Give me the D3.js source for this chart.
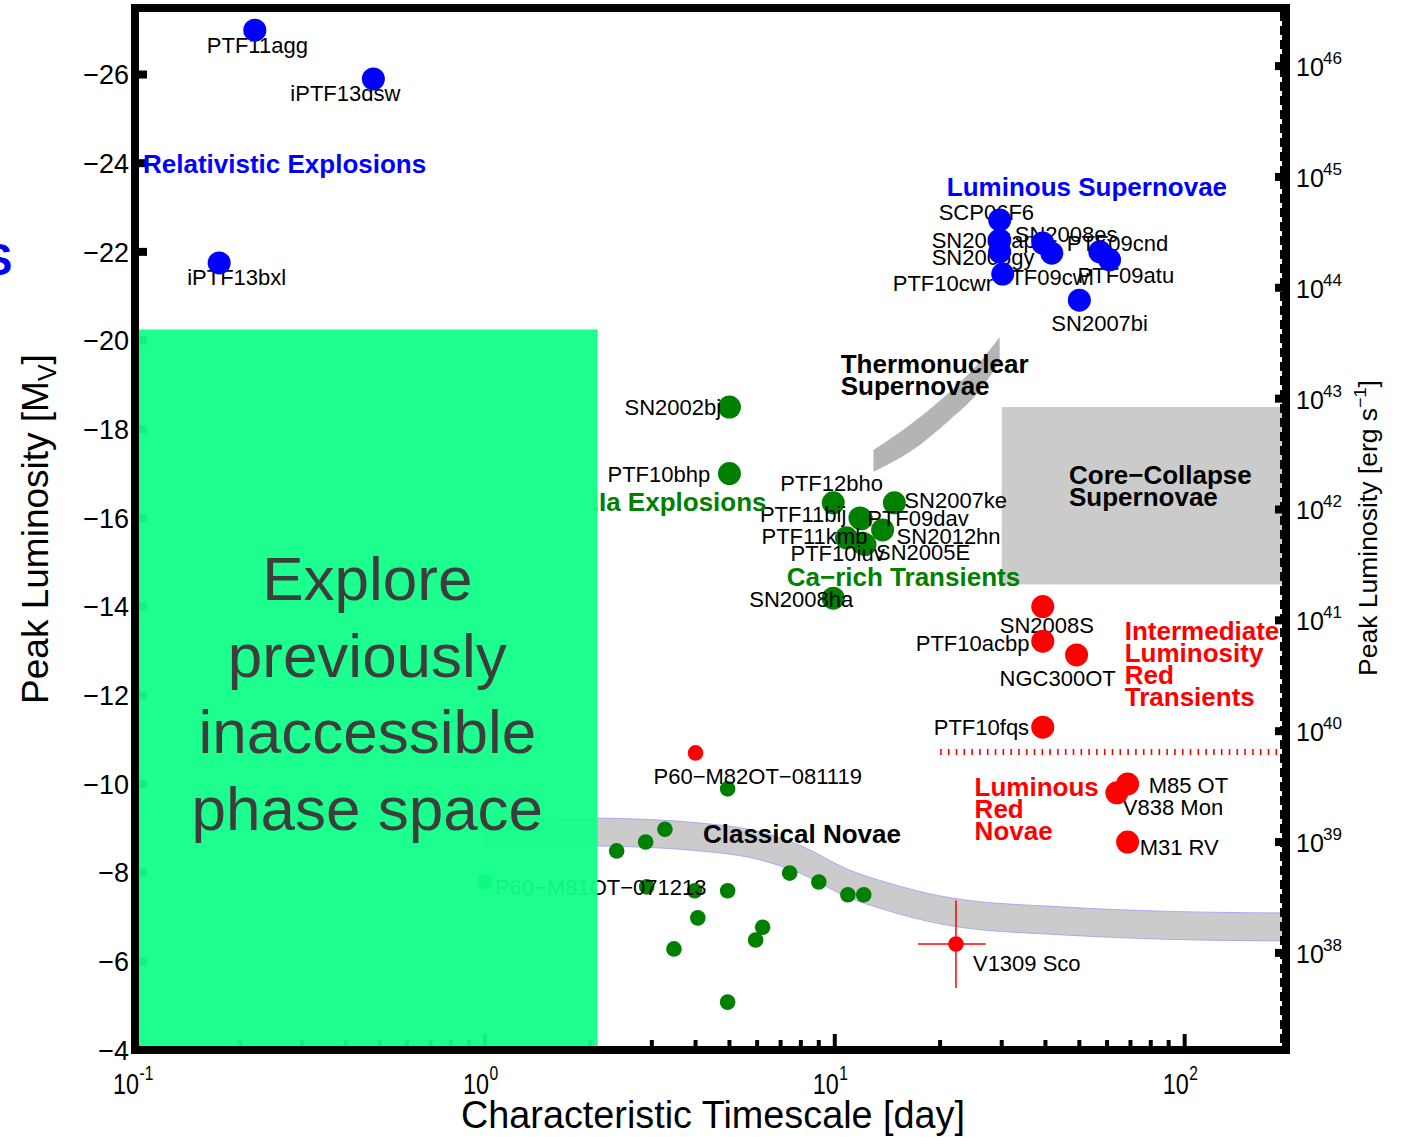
<!DOCTYPE html>
<html>
<head>
<meta charset="utf-8">
<script src="https://cdn.jsdelivr.net/npm/d3@7"></script>
<style>
  body { margin: 0; background: #fff; }
  text { font-family: "Liberation Sans", Arial, Helvetica, sans-serif; }
</style>
</head>
<body>
<svg id="chart" width="1404" height="1137"></svg>
<script>
'use strict'

// ---- data (timescale in days, peak absolute magnitude M_V) ----
const relNames = ['PTF11agg', 'iPTF13dsw', 'iPTF13bxl']
const relDays = [0.22, 0.48, 0.174]
const relMag = [-27.0, -25.9, -21.75]

const slsnNames = ['SCP06F6', 'SN2005ap', 'SN2006gy', 'PTF10cwr', 'SN2008es', 'PTF09cwl', 'PTF09cnd', 'PTF09atu', 'SN2007bi']
const slsnDays = [29.6, 29.6, 29.6, 30.2, 39.3, 41.7, 57.2, 61, 50]
const slsnMag = [-22.72, -22.27, -22.0, -21.5, -22.2, -21.97, -22.0, -21.82, -20.91]

const iaNames = ['SN2002bj', 'PTF10bhp', 'PTF12bho', 'SN2007ke', 'PTF11bij', 'PTF09dav', 'SN2012hn', 'PTF11kmb', 'PTF10iuv', 'SN2005E', 'SN2008ha']
const iaDays = [5.0, 5.0, 9.9, 14.8, 11.8, 11.9, 13.7, 10.8, 12.0, 12.2, 9.9]
const iaMag = [-18.5, -17.0, -16.34, -16.34, -16.0, -15.98, -15.73, -15.55, -15.43, -15.4, -14.19]

const redNames = ['SN2008S', 'PTF10acbp', 'NGC300OT', 'PTF10fqs', 'M85 OT', 'V838 Mon', 'M31 RV']
const redDays = [39.3, 39.3, 49.1, 39.3, 68.7, 64, 68.7]
const redMag = [-14.0, -13.22, -12.91, -11.28, -10.0, -9.8, -8.69]

const smallRedNames = ['P60\u2212M82OT\u2212081119', 'V1309 Sco']
const smallRedDays = [4.0, 22.2]
const smallRedMag = [-10.7, -6.39]
const v1309DayErr = [17.3, 27.0]
const v1309MagErr = [-7.38, -5.4]

const novaNames = ['', '', '', '', 'P60\u2212M81OT\u2212071213', '', '', '', '', '', '', '', '', '', '', '', '']
const novaDays = [4.94, 3.27, 2.88, 2.38, 1.0, 2.9, 3.98, 4.94, 4.06, 6.22, 5.94, 3.47, 4.94, 7.43, 9.0, 10.9, 12.1]
const novaMag = [-9.89, -8.98, -8.69, -8.49, -7.79, -7.68, -7.59, -7.59, -6.98, -6.77, -6.48, -6.28, -5.08, -7.99, -7.79, -7.5, -7.5]

// shaded regions
const novaBandDays = [1.0, 2.12, 4.11, 6.1, 7.94, 11.0, 13.4, 22.3, 44, 86.5, 200]
const novaBandTop = [-9.25, -9.23, -9.12, -8.92, -8.62, -8.06, -7.83, -7.41, -7.23, -7.13, -7.09]
const novaBandBottom = [-8.62, -8.6, -8.49, -8.29, -7.99, -7.43, -7.2, -6.78, -6.6, -6.5, -6.46]

const tnBandDays = [12.9, 16.4, 21.3, 26, 29.6]
const tnBandTop = [-17.53, -18.1, -18.84, -19.52, -20.08]
const tnBandBottom = [-17.04, -17.49, -18.21, -18.88, -19.52]

const ccDays = [30, 200]
const ccMag = [-18.5, -14.5]

const ilrtLimitDays = [20, 200]
const ilrtLimitMag = -10.72

const gapDays = [0.1, 2.1]
const gapMag = [-20.25, -4]
const gapLines = ['Explore', 'previously', 'inaccessible', 'phase space']

// axes
const magTicks = [-26, -24, -22, -20, -18, -16, -14, -12, -10, -8, -6, -4]
const dayTickExp = [-1, 0, 1, 2]
const lumExp = [38, 39, 40, 41, 42, 43, 44, 45, 46]
const magAtLum38 = -6.19

// group annotations: [text lines, day, mag, colour]
const groupNotes = [
  [['Relativistic Explosions'], 0.1054, -23.98, '#0000ff'],
  [['Luminous Supernovae'], 20.9, -23.46, '#0000ff'],
  [['Thermonuclear', 'Supernovae'], 10.4, -19.47, '#000'],
  [['.Ia Explosions'], 2.02, -16.36, '#008000'],
  [['Ca\u2212rich Transients'], 7.29, -14.67, '#008000'],
  [['Core\u2212Collapse', 'Supernovae'], 46.7, -16.97, '#000'],
  [['Intermediate', 'Luminosity', 'Red', 'Transients'], 67.4, -13.45, '#ff0000'],
  [['Luminous', 'Red', 'Novae'], 25.1, -9.95, '#ff0000'],
  [['Classical Novae'], 4.2, -8.87, '#000']
]

// label offsets from the marker, in pixels
const labelOffset = {
  PTF11agg: [-48, 15], iPTF13dsw: [-83, 14], iPTF13bxl: [-32, 14],
  SCP06F6: [-61, -8], SN2005ap: [-68, 0], SN2006gy: [-68, 5], PTF10cwr: [-110, 9],
  SN2008es: [-28, -9], PTF09cwl: [-56, 24], PTF09cnd: [-33, -9], PTF09atu: [-32, 15], SN2007bi: [-28, 23],
  SN2002bj: [-105, 0], PTF10bhp: [-122, 1], PTF12bho: [-53, -20], SN2007ke: [10, -3],
  PTF11bij: [-100, -4], PTF09dav: [6, -1], SN2012hn: [14, 6], PTF11kmb: [-85, -2],
  PTF10iuv: [-72, 10], SN2005E: [11, 8], SN2008ha: [-84, 1],
  SN2008S: [-43, 18], PTF10acbp: [-127, 2], NGC300OT: [-77, 23], PTF10fqs: [-109, 0],
  'M85 OT': [21, 1], 'V838 Mon': [6, 14], 'M31 RV': [12, 5],
  'P60\u2212M82OT\u2212081119': [-42, 23], 'V1309 Sco': [17, 19],
  'P60\u2212M81OT\u2212071213': [10, 5]
}

const svg = d3.select('#chart')
const x = d3.scaleLog().domain([0.1, 200]).range([135, 1290])
const y = d3.scaleLinear().domain([-4, -27.5]).range([1050, 8])
const lumToMag = (e) => magAtLum38 - 2.5 * (e - 38)
const frameRight = 1286

// ---- shaded regions ----
svg.append('rect')
  .attr('x', x(ccDays[0])).attr('y', y(ccMag[0]))
  .attr('width', frameRight - x(ccDays[0]))
  .attr('height', y(ccMag[1]) - y(ccMag[0]))
  .attr('fill', '#cbcbcb')

const tnRows = tnBandDays.map((d, i) => ({ d, top: tnBandTop[i], bot: tnBandBottom[i] }))
svg.append('path')
  .datum(tnRows)
  .attr('d', d3.area().curve(d3.curveMonotoneX)
    .x((r) => x(r.d)).y0((r) => y(r.bot)).y1((r) => y(r.top)))
  .attr('fill', '#b4b4b4')

const novaRows = novaBandDays.map((d, i) => ({ d, top: novaBandTop[i], bot: novaBandBottom[i] }))
svg.append('path')
  .datum(novaRows)
  .attr('d', d3.area().curve(d3.curveMonotoneX)
    .x((r) => Math.min(x(r.d), frameRight)).y0((r) => y(r.bot)).y1((r) => y(r.top)))
  .attr('fill', '#cbcbcb')
;['top', 'bot'].forEach((k) => {
  svg.append('path')
    .datum(novaRows)
    .attr('d', d3.line().curve(d3.curveMonotoneX)
      .x((r) => Math.min(x(r.d), frameRight)).y((r) => y(r[k])))
    .attr('fill', 'none')
    .attr('stroke', '#9a9aff')
    .attr('stroke-width', 0.8)
})

svg.append('line')
  .attr('x1', x(ilrtLimitDays[0])).attr('x2', frameRight - 8)
  .attr('y1', y(ilrtLimitMag)).attr('y2', y(ilrtLimitMag))
  .attr('stroke', '#ff0000').attr('stroke-width', 6)
  .attr('stroke-dasharray', '1.6,6.2')

// ---- ticks (inside the box) ----
const ticks = svg.append('g').attr('stroke', '#000')
ticks.selectAll('.ytick').data(magTicks).enter().append('line')
  .attr('x1', 139).attr('x2', 147)
  .attr('y1', (m) => y(m)).attr('y2', (m) => y(m))
  .attr('stroke-width', 8)
ticks.selectAll('.rtick').data(lumExp).enter().append('line')
  .attr('x1', frameRight - 11).attr('x2', frameRight - 3)
  .attr('y1', (e) => y(lumToMag(e))).attr('y2', (e) => y(lumToMag(e)))
  .attr('stroke-width', 8)
const minorDays = []
dayTickExp.forEach((e) => {
  for (let k = 1; k <= 9; k++) {
    const v = k * Math.pow(10, e)
    if (v > 0.1 && v < 190) minorDays.push({ v, major: k === 1 })
  }
})
ticks.selectAll('.xtick').data(minorDays).enter().append('line')
  .attr('x1', (t) => x(t.v)).attr('x2', (t) => x(t.v))
  .attr('y1', 1046).attr('y2', (t) => t.major ? 1034 : 1040)
  .attr('stroke-width', 4)

// ---- markers and labels ----
function drawGroup (names, days, mags, colour, r, labelsOnTop) {
  const rows = names.map((n, i) => ({ n, d: days[i], m: mags[i] }))
  const g = svg.append('g')
  const addLabels = () => {
    g.selectAll('text.lab').data(rows.filter((p) => p.n)).enter().append('text')
      .attr('class', 'lab')
      .attr('x', (p) => x(p.d) + labelOffset[p.n][0])
      .attr('y', (p) => y(p.m) + labelOffset[p.n][1])
      .attr('dy', '0.36em')
      .attr('font-size', 22)
      .attr('fill', '#000')
      .text((p) => p.n)
  }
  if (!labelsOnTop) addLabels()
  g.selectAll('circle').data(rows).enter().append('circle')
    .attr('cx', (p) => x(p.d)).attr('cy', (p) => y(p.m))
    .attr('r', r).attr('fill', colour)
  if (labelsOnTop) addLabels()
}

// V1309 Sco error bars
const errG = svg.append('g').attr('stroke', '#ff0000').attr('stroke-width', 1.5)
errG.append('line')
  .attr('x1', x(v1309DayErr[0])).attr('x2', x(v1309DayErr[1]))
  .attr('y1', y(smallRedMag[1])).attr('y2', y(smallRedMag[1]))
errG.append('line')
  .attr('x1', x(smallRedDays[1])).attr('x2', x(smallRedDays[1]))
  .attr('y1', y(v1309MagErr[0])).attr('y2', y(v1309MagErr[1]))

drawGroup(novaNames, novaDays, novaMag, '#008000', 7.8, true)
drawGroup(iaNames, iaDays, iaMag, '#008000', 11.5, true)
drawGroup(relNames, relDays, relMag, '#0000ff', 11.5, false)
drawGroup(slsnNames, slsnDays, slsnMag, '#0000ff', 11.5, false)
drawGroup(redNames, redDays, redMag, '#ff0000', 11.5, false)
drawGroup(smallRedNames, smallRedDays, smallRedMag, '#ff0000', 7.8, true)

// group annotations
groupNotes.forEach(([lines, d, m, colour]) => {
  const t = svg.append('text')
    .attr('x', x(d)).attr('y', y(m))
    .attr('font-size', 26).attr('font-weight', 'bold')
    .attr('fill', colour)
  lines.forEach((s, i) => {
    t.append('tspan').attr('x', x(d)).attr('y', y(m) + i * 22).attr('dy', '0.36em').text(s)
  })
})

// clipped blue letter at the far left edge
svg.append('text').attr('x', -17).attr('y', 275)
  .attr('font-size', 44).attr('font-weight', 'bold').attr('fill', '#0000ff').text('S')

// ---- unexplored region ----
svg.append('rect')
  .attr('x', x(gapDays[0]) + 4).attr('y', y(gapMag[0]))
  .attr('width', x(gapDays[1]) - x(gapDays[0]) - 4)
  .attr('height', y(gapMag[1]) - y(gapMag[0]) - 3)
  .attr('fill', '#10ff88').attr('opacity', 0.95)
const gapText = svg.append('text')
  .attr('text-anchor', 'middle').attr('font-size', 62).attr('fill', '#3d3d3d')
gapLines.forEach((s, i) => {
  gapText.append('tspan')
    .attr('x', (x(gapDays[0]) + x(gapDays[1])) / 2 + 1)
    .attr('y', 600 + i * 76.5).text(s)
})

// ---- frame ----
svg.append('rect')
  .attr('x', 135).attr('y', 8).attr('width', frameRight - 135).attr('height', 1042)
  .attr('fill', 'none').attr('stroke', '#000').attr('stroke-width', 8)
svg.append('line')
  .attr('x1', frameRight - 5).attr('x2', frameRight - 5).attr('y1', 12).attr('y2', 1046)
  .attr('stroke', '#000').attr('stroke-width', 2).attr('stroke-dasharray', '9,5')

// ---- tick labels ----
svg.append('g').selectAll('text').data(magTicks).enter().append('text')
  .attr('x', 129).attr('y', (m) => y(m)).attr('dy', '0.36em')
  .attr('text-anchor', 'end').attr('font-size', 27)
  .text((m) => '\u2212' + Math.abs(m))

const xl = svg.append('g').selectAll('g').data(dayTickExp).enter().append('g')
  .attr('transform', (e) => `translate(${x(Math.pow(10, e)) - 22},1094) scale(0.78,1)`)
xl.append('text').attr('font-size', 30).text('10')
xl.append('text').attr('x', 34).attr('y', -14).attr('font-size', 20)
  .text((e) => e < 0 ? '-' + Math.abs(e) : String(e))

const rl = svg.append('g').selectAll('g').data(lumExp).enter().append('g')
  .attr('transform', (e) => `translate(1296,${y(lumToMag(e)) + 10})`)
rl.append('text').attr('font-size', 25).text('10')
rl.append('text').attr('x', 27).attr('y', -12).attr('font-size', 17).text((e) => e)

// ---- axis titles ----
svg.append('text')
  .attr('transform', 'translate(713,1128)')
  .attr('text-anchor', 'middle').attr('font-size', 38)
  .attr('textLength', 504).attr('lengthAdjust', 'spacingAndGlyphs')
  .text('Characteristic Timescale [day]')

const yt = svg.append('text')
  .attr('transform', 'translate(48,529) rotate(-90)')
  .attr('text-anchor', 'middle').attr('font-size', 37)
yt.append('tspan').text('Peak Luminosity [M')
yt.append('tspan').attr('font-size', 25).attr('dy', 8).text('V')
yt.append('tspan').attr('dy', -8).text(']')

const rt = svg.append('text')
  .attr('transform', 'translate(1377,528) rotate(-90)')
  .attr('text-anchor', 'middle').attr('font-size', 25)
  .attr('textLength', 296).attr('lengthAdjust', 'spacingAndGlyphs')
rt.append('tspan').text('Peak Luminosity [erg s')
rt.append('tspan').attr('font-size', 17).attr('dy', -11).text('\u22121')
rt.append('tspan').attr('dy', 11).text(']')
</script>
</body>
</html>
